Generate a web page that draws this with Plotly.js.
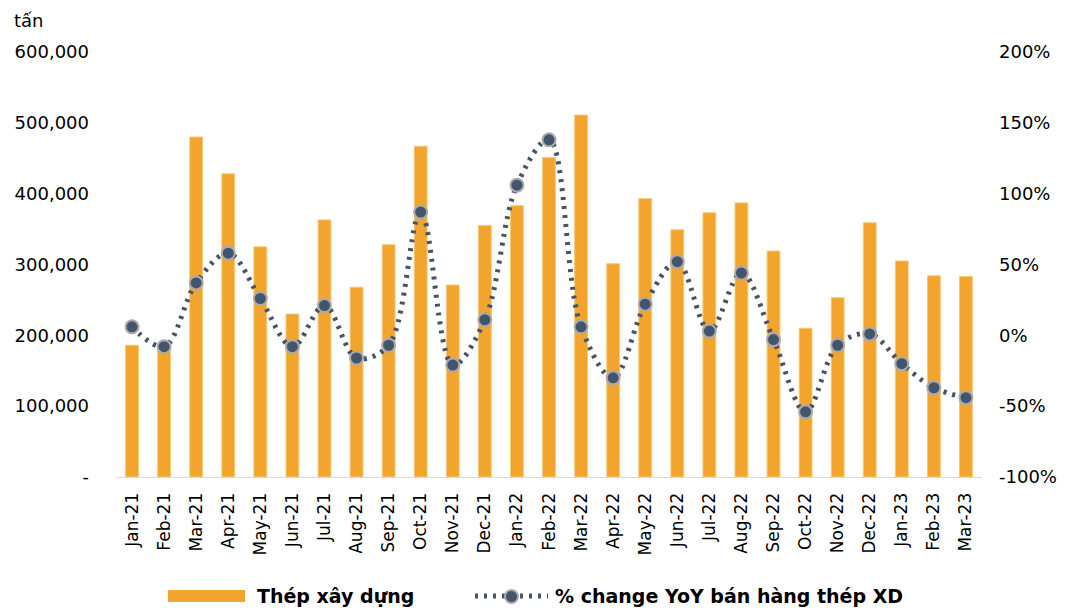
<!DOCTYPE html>
<html><head><meta charset="utf-8">
<script src="https://cdn.plot.ly/plotly-3.0.1.min.js"></script>
<style>body{margin:0;background:#fff}#c{width:1069px;height:608px}</style>
</head><body><div id="c"></div>
<script>
const months = ["Jan-21","Feb-21","Mar-21","Apr-21","May-21","Jun-21","Jul-21","Aug-21","Sep-21","Oct-21","Nov-21","Dec-21","Jan-22","Feb-22","Mar-22","Apr-22","May-22","Jun-22","Jul-22","Aug-22","Sep-22","Oct-22","Nov-22","Dec-22","Jan-23","Feb-23","Mar-23"];
const steelSales = [186000,183000,480000,428000,325000,230000,363000,268000,328000,467000,271000,355000,383000,451000,511000,301000,393000,349000,373000,387000,319000,210000,253000,359000,305000,284000,283000];
const yoyChange = [6,-8,37,58,26,-8,21,-16,-7,87,-21,11,106,138,6,-30,22,52,3,44,-3,-54,-7,1,-20,-37,-44];
const leftTickVals = [0,100000,200000,300000,400000,500000,600000];
const leftTickText = ["-","100,000","200,000","300,000","400,000","500,000","600,000"];
const rightTickVals = [-100,-50,0,50,100,150,200];
const rightTickText = ["-100%","-50%","0%","50%","100%","150%","200%"];
const barName = "Thép xây dựng";
const lineName = "% change YoY bán hàng thép XD";

const font = "DejaVu Sans, Verdana, sans-serif";
const L = 116, R = 982, T = 52, B = 477;
const W = R - L, H = B - T;
const px = v => (v - L) / W;
const py = v => (B - v) / H;

const traces = [
  {type:"bar", x:months, y:steelSales, name:barName, width:0.4,
   marker:{color:"#F3A42C", line:{color:"#F8C878", width:1}}, yaxis:"y", showlegend:false},
  {type:"scatter", mode:"lines+markers", x:months, y:yoyChange, name:lineName, yaxis:"y2",
   line:{shape:"spline", smoothing:1, dash:"3px,6px", width:5, color:"#44546A"},
   marker:{size:13, color:"#44546A", line:{color:"#A9ABAE", width:2}}, showlegend:false}
];
const layout = {
  width:1069, height:608,
  margin:{l:L, r:1069-R, t:T, b:608-B},
  paper_bgcolor:"#fff", plot_bgcolor:"#fff",
  font:{family:font, size:18, color:"#000"},
  xaxis:{type:"category", range:[-0.5,26.5], automargin:false, tickangle:-90, showgrid:false,
    showline:true, linecolor:"#D9D9D9", linewidth:1, ticks:"", ticklabelstandoff:8, tickfont:{size:17}},
  yaxis:{range:[0,600000], automargin:false, tickvals:leftTickVals, ticktext:leftTickText, showgrid:false,
    zeroline:false, showline:false, ticks:"", ticklabelstandoff:26, tickfont:{size:18}},
  yaxis2:{overlaying:"y", side:"right", automargin:false, range:[-100,200], tickvals:rightTickVals,
    ticktext:rightTickText, showgrid:false, zeroline:false, showline:false, ticks:"",
    ticklabelstandoff:16, tickfont:{size:18}},
  showlegend:false,
  annotations:[
    {xref:"paper", yref:"paper", x:px(12), y:py(20), xanchor:"left", yanchor:"middle",
     text:"tấn", showarrow:false, font:{size:18}},
    {xref:"paper", yref:"paper", x:px(255), y:py(596), xanchor:"left", yanchor:"middle",
     text:"<b>"+barName+"</b>", showarrow:false, font:{size:19}},
    {xref:"paper", yref:"paper", x:px(553), y:py(596), xanchor:"left", yanchor:"middle",
     text:"<b>"+lineName+"</b>", showarrow:false, font:{size:19}}
  ],
  shapes:[
    {type:"rect", xref:"paper", yref:"paper", x0:px(168), x1:px(245),
     y0:py(590), y1:py(602), fillcolor:"#F3A42C", line:{width:0}},
    {type:"line", xref:"paper", yref:"paper", x0:px(475), x1:px(548),
     y0:py(596), y1:py(596), line:{color:"#44546A", width:5, dash:"3px,6px"}},
    {type:"circle", xref:"paper", yref:"paper", x0:px(505), x1:px(518),
     y0:py(590), y1:py(603), fillcolor:"#44546A", line:{color:"#A9ABAE", width:2}}
  ]
};
Plotly.newPlot("c", traces, layout, {displayModeBar:false, staticPlot:true});
</script></body></html>
